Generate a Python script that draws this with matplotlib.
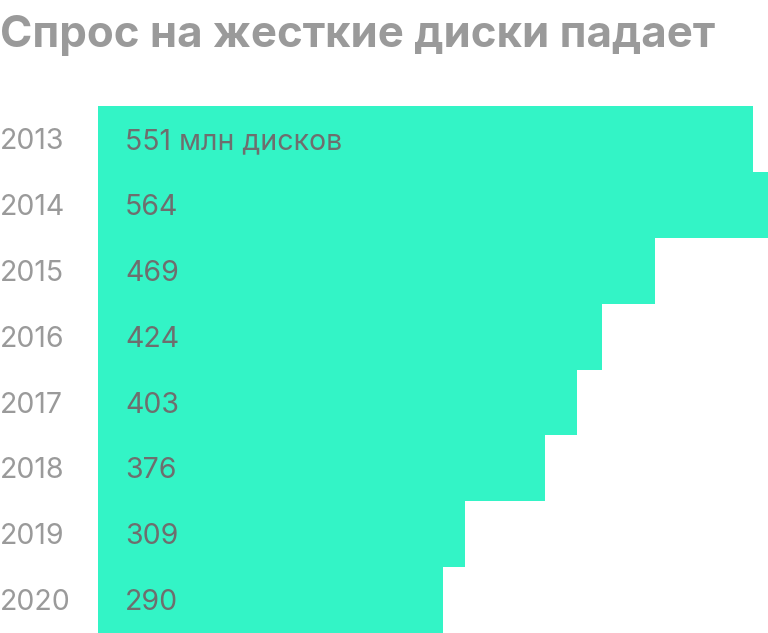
import matplotlib
matplotlib.use('Agg')
import matplotlib.pyplot as plt

# Data
years = ['2013', '2014', '2015', '2016', '2017', '2018', '2019', '2020']
disks = [551, 564, 469, 424, 403, 376, 309, 290]
labels = ['551 млн дисков', '564', '469', '424', '403', '376', '309', '290']

TITLE = 'Спрос на жесткие диски падает'
BAR_COLOR = '#33f4c6'

plt.rcParams['font.family'] = ['Inter', 'DejaVu Sans']

W, H = 768, 633
fig = plt.figure(figsize=(W / 100, H / 100), dpi=100)

# axes placed in pixel terms: bars start at x=98, top at y=106
ax = fig.add_axes([98 / W, 0, 670 / W, 527 / H])
pos = list(range(len(years)))
ax.barh(pos, disks, height=1.0, color=BAR_COLOR, edgecolor='none')
ax.set_xlim(0, max(disks))
ax.set_ylim(len(years) - 0.5, -0.5)
ax.axis('off')

for i, (yr, lab) in enumerate(zip(years, labels)):
    ax.text(-98 / 670 * max(disks), i + 0.04, yr, ha='left', va='center',
            fontsize=20.5, color='#9a9a9a')
    ax.text(27 / 670 * max(disks), i + 0.04, lab, ha='left', va='center',
            fontsize=20.5, color='#6e6e6e')

fig.text(0, 1 - 35 / H, TITLE, ha='left', va='center', fontsize=31.5,
         fontweight='bold', color='#9a9a9a')

fig.savefig('out.png', dpi=100)
